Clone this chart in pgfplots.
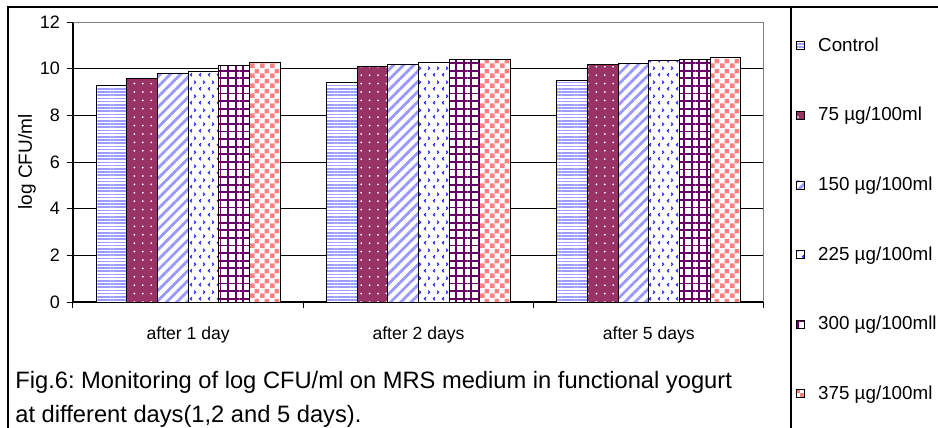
\documentclass[border=0pt]{standalone}
\usepackage{fontspec}
\setmainfont{Liberation Sans}
\usepackage{pgfplots}
\pgfplotsset{compat=1.18}
\usetikzlibrary{patterns,patterns.meta}
\frenchspacing

\definecolor{cCtrl}{HTML}{9999FF}
\definecolor{c75}{HTML}{993366}
\definecolor{c150}{HTML}{9999FF}
\definecolor{c225}{HTML}{2222FF}
\definecolor{c300}{HTML}{660066}
\definecolor{c375}{HTML}{FF8080}

\tikzdeclarepattern{
  name=chevrons, type=uncolored,
  bottom left={(0pt,0pt)}, top right={(4.5pt,7pt)}, tile size={(4.5pt,7pt)},
  code={
    \draw[line width=0.6pt] (1.6pt,0.9pt) -- (0.8pt,1.7pt) -- (1.6pt,2.5pt);
    \draw[line width=0.6pt] (2.9pt,4.4pt) -- (3.7pt,5.2pt) -- (2.9pt,6.0pt);
  }
}
\tikzdeclarepattern{
  name=checker, type=uncolored,
  bottom left={(0pt,0pt)}, top right={(5pt,5pt)}, tile size={(5pt,5pt)},
  code={
    \fill (0pt,0pt) rectangle (2.5pt,2.5pt);
    \fill (2.5pt,2.5pt) rectangle (5pt,5pt);
  }
}

\pgfplotsset{
  legimg/.style={legend image code/.code={\draw[##1,draw=black,line width=0.4pt] (0pt,-2pt) rectangle (4pt,2pt);}},
}

\begin{document}
\begin{tikzpicture}
\useasboundingbox (0,0) rectangle (469pt,-214pt);
\draw[line width=0.8pt] (4pt,-214pt) -- (4pt,-3.5pt) -- (469pt,-3.5pt);
\draw[line width=0.7pt] (395.5pt,-3.5pt) -- (395.5pt,-214pt);
\node[anchor=base west, inner sep=0pt, font=\fontsize{11.85}{14}\selectfont] at (7.5pt,-194pt) {Fig.6: Monitoring of log CFU/ml on MRS medium in functional yogurt};
\node[anchor=base west, inner sep=0pt, font=\fontsize{11.85}{14}\selectfont] at (7.5pt,-211pt) {at different days(1,2 and 5 days).};
\begin{axis}[
  at={(36.5pt,-151pt)}, anchor=south west,
  scale only axis, width=345.5pt, height=140pt,
  ybar=0pt, bar width=15.35pt,
  xmin=-0.5, xmax=2.5, ymin=0, ymax=12,
  xtick={-0.5,0.5,1.5,2.5}, xticklabels={},
  extra x ticks={0,1,2},
  extra x tick labels={after 1 day, after 2 days, after 5 days},
  extra x tick style={major tick length=0pt, grid=none},
  ytick={0,2,4,6,8,10,12},
  axis lines*=left,
  axis line style={black, line width=0.6pt},
  tick align=outside, major tick length=3pt,
  tick style={black, line width=0.5pt},
  ymajorgrids, grid style={black, line width=0.5pt},
  /pgf/number format/assume math mode=true,
  yticklabel style={font=\fontsize{9}{10}\selectfont},
  xticklabel style={font=\fontsize{8.8}{10}\selectfont},
  xticklabel shift=9pt,
  ylabel={log CFU/ml},
  ylabel style={at={(axis description cs:-0.0666,0.5)}, anchor=center, font=\fontsize{9.5}{11}\selectfont},
  legend cell align=left,
  legend style={at={(axis description cs:1.0376,0.965)}, anchor=north west,
    draw=none, fill=none, font=\fontsize{9.4}{11}\selectfont, row sep=25.3pt,
    nodes={inner sep=0pt, text height=7.5pt, text depth=2pt},
    /tikz/every odd column/.append style={column sep=6.5pt}},
]
\addplot[draw=black, line width=0.5pt, fill=white, legimg,
  postaction={pattern color=cCtrl, pattern={Lines[angle=0,distance=1.6pt,line width=0.75pt]}}]
  coordinates {(0,9.27) (1,9.41) (2,9.49)};
\addplot[draw=black, line width=0.5pt, fill=c75, legimg,
  postaction={pattern color=white, pattern={Dots[distance=4.2pt,radius=0.5pt]}}]
  coordinates {(0,9.60) (1,10.09) (2,10.16)};
\addplot[draw=black, line width=0.5pt, fill=white, legimg,
  postaction={pattern color=c150, pattern={Lines[angle=45,distance=3.6pt,line width=1.4pt]}}]
  coordinates {(0,9.80) (1,10.20) (2,10.23)};
\addplot[draw=black, line width=0.5pt, fill=white, legimg,
  postaction={pattern color=c225, pattern=chevrons}]
  coordinates {(0,9.90) (1,10.27) (2,10.36)};
\addplot[draw=black, line width=0.5pt, fill=white, legimg,
  postaction={pattern color=c300, pattern={Hatch[angle=0,distance=3.8pt,line width=0.9pt]}}]
  coordinates {(0,10.13) (1,10.40) (2,10.41)};
\addplot[draw=black, line width=0.5pt, fill=white, legimg,
  postaction={pattern color=c375, pattern=checker}]
  coordinates {(0,10.26) (1,10.40) (2,10.49)};
\draw[gray, line width=0.6pt] (rel axis cs:0,1) -- (rel axis cs:1,1) -- (rel axis cs:1,0);
\legend{Control, 75 µg/100ml, 150 µg/100ml, 225 µg/100ml, 300 µg/100mll, 375 µg/100ml}
\end{axis}
\end{tikzpicture}
\end{document}
